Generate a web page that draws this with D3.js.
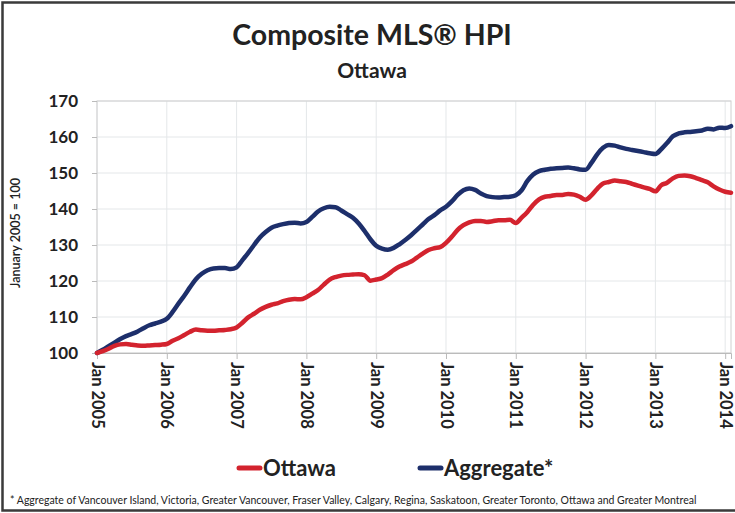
<!DOCTYPE html>
<html>
<head>
<meta charset="utf-8">
<script src="https://cdn.jsdelivr.net/npm/d3@7"></script>
<style>
  body { margin: 0; background: #fff; }
  text { font-family: Lato, "Open Sans", sans-serif; fill: #222; }
</style>
</head>
<body>
<div id="chart"></div>
<script>
'use strict'

// monthly index, Jan 2005 .. Feb 2014
const yearLabels = ["Jan 2005", "Jan 2006", "Jan 2007", "Jan 2008", "Jan 2009",
    "Jan 2010", "Jan 2011", "Jan 2012", "Jan 2013", "Jan 2014"];
const yTicks = [100, 110, 120, 130, 140, 150, 160, 170];

const ottawa = [
    100.0, 100.5, 101.2, 102.0, 102.4, 102.5, 102.3, 102.1, 102.0, 102.1, 102.2, 102.3,
    102.5, 103.4, 104.1, 105.0, 105.9, 106.5, 106.3, 106.2, 106.2, 106.3, 106.4, 106.6,
    107.1, 108.4, 109.9, 110.9, 112.0, 112.8, 113.4, 113.8, 114.4, 114.8, 115.0, 114.9,
    115.5, 116.5, 117.5, 119.0, 120.4, 121.1, 121.5, 121.7, 121.8, 121.9, 121.6, 120.1,
    120.4, 120.8, 121.8, 123.0, 124.0, 124.7, 125.4, 126.5, 127.6, 128.6, 129.1, 129.4,
    130.6, 132.3, 134.2, 135.5, 136.3, 136.7, 136.7, 136.4, 136.6, 136.9, 136.9, 137.0,
    136.1, 137.6, 139.2, 141.2, 142.7, 143.4, 143.6, 143.9, 143.9, 144.2, 144.0, 143.4,
    142.6, 143.8, 145.6, 147.1, 147.5, 147.9, 147.7, 147.5, 147.0, 146.5, 146.0, 145.6,
    144.9, 146.6, 147.3, 148.5, 149.2, 149.3, 149.1, 148.6, 148.0, 147.4, 146.3, 145.4,
    144.8, 144.5
];

const aggregate = [
    100.0, 100.9, 101.9, 102.9, 103.9, 104.7, 105.3, 106.0, 106.9, 107.7, 108.2, 108.7,
    109.5, 111.4, 113.7, 115.9, 118.3, 120.5, 122.0, 123.0, 123.5, 123.6, 123.6, 123.3,
    123.8, 125.8, 127.8, 130.0, 132.1, 133.6, 134.8, 135.4, 135.8, 136.1, 136.2, 136.0,
    136.4, 137.8, 139.3, 140.2, 140.6, 140.5, 139.6, 138.6, 137.6, 136.0, 133.9, 131.6,
    129.8, 129.0, 128.7, 129.2, 130.2, 131.4, 132.7, 134.2, 135.7, 137.2, 138.3, 139.6,
    140.6, 142.1, 143.9, 145.2, 145.7, 145.3, 144.3, 143.6, 143.3, 143.2, 143.3, 143.4,
    143.8, 145.2, 147.8, 149.6, 150.5, 150.9, 151.2, 151.3, 151.4, 151.5, 151.3, 151.0,
    150.9, 152.8, 155.2, 157.0, 157.8, 157.6, 157.1, 156.7, 156.4, 156.1, 155.8, 155.5,
    155.3, 156.6, 158.3, 160.2, 161.0, 161.3, 161.4, 161.6, 161.8, 162.3, 162.1, 162.6,
    162.5, 163.0
];

const seriesNames = ["Ottawa", "Aggregate*"];
const seriesColors = ["#d3232e", "#1d2f6b"];

const W = 735, H = 513;
const plot = { left: 97, right: 731, top: 101, bottom: 353 };

const svg = d3.select("#chart").append("svg")
    .attr("width", W)
    .attr("height", H);

// outer frame
svg.append("rect")
    .attr("x", 2.5).attr("y", 2.5)
    .attr("width", W + 20).attr("height", H - 5)
    .attr("fill", "none")
    .attr("stroke", "#3a3a3a")
    .attr("stroke-width", 2.5);

svg.append("text")
    .attr("x", 372).attr("y", 45)
    .attr("text-anchor", "middle")
    .style("font-size", "28.5px")
    .style("font-weight", "bold")
    .text("Composite MLS® HPI");

svg.append("text")
    .attr("x", 372).attr("y", 78)
    .attr("text-anchor", "middle")
    .style("font-size", "21px")
    .style("font-weight", "bold")
    .text("Ottawa");

const x = d3.scaleLinear()
    .domain([0, ottawa.length - 1])
    .range([plot.left, plot.right]);

const y = d3.scaleLinear()
    .domain([100, 170])
    .range([plot.bottom, plot.top]);

const xTickIdx = yearLabels.map((d, i) => i * 12);

// grid
const grid = svg.append("g");
grid.selectAll(".hg")
    .data(yTicks)
    .enter().append("line")
    .attr("x1", plot.left).attr("x2", plot.right)
    .attr("y1", d => y(d)).attr("y2", d => y(d))
    .attr("stroke", "#e4e7e9");
grid.selectAll(".vg")
    .data(xTickIdx)
    .enter().append("line")
    .attr("x1", d => x(d)).attr("x2", d => x(d))
    .attr("y1", plot.top).attr("y2", plot.bottom)
    .attr("stroke", "#e4e7e9");

svg.append("rect")
    .attr("x", plot.left).attr("y", plot.top)
    .attr("width", plot.right - plot.left)
    .attr("height", plot.bottom - plot.top)
    .attr("fill", "none")
    .attr("stroke", "#d0d0d0");

// axes
const yAxis = svg.append("g")
    .attr("transform", `translate(${plot.left - 4}, 0)`)
    .call(d3.axisLeft(y).tickValues(yTicks).tickSize(5).tickPadding(10))
yAxis.select(".domain").remove();
yAxis.selectAll("line").attr("stroke", "#bbb").attr("transform", "translate(4,0)");
yAxis.selectAll("text")
    .style("font-size", "17px")
    .style("font-weight", "bold")
    .attr("fill", "#222");

const xAxis = svg.append("g")
    .attr("transform", `translate(0, ${plot.bottom})`)
    .call(d3.axisBottom(x).tickValues(xTickIdx).tickSize(6)
        .tickFormat((d, i) => yearLabels[i]));
xAxis.select(".domain").attr("stroke", "#bbb");
xAxis.selectAll("line").attr("stroke", "#bbb");
xAxis.selectAll("text")
    .attr("transform", "rotate(90)")
    .attr("x", 9).attr("y", 0)
    .attr("dy", "0.36em")
    .style("text-anchor", "start")
    .style("font-size", "16.5px")
    .style("font-weight", "bold")
    .attr("fill", "#222");

svg.append("text")
    .attr("transform", "translate(20, 233) rotate(-90)")
    .attr("text-anchor", "middle")
    .style("font-size", "12.5px")
    .style("font-weight", "600")
    .text("January 2005 = 100");

// lines
const line = d3.line()
    .x((d, i) => x(i))
    .y(d => y(d))
    .curve(d3.curveMonotoneX);

[aggregate, ottawa].forEach((s, k) => {
    svg.append("path")
        .datum(s)
        .attr("fill", "none")
        .attr("stroke", seriesColors[1 - k])
        .attr("stroke-width", 4.5)
        .attr("stroke-linejoin", "round")
        .attr("stroke-linecap", "round")
        .attr("d", line);
});

// legend
const legendX = [239, 420];
const legend = svg.selectAll(".legend")
    .data(seriesNames)
    .enter().append("g")
    .attr("transform", (d, i) => `translate(${legendX[i]}, 468)`);
legend.append("line")
    .attr("x1", 0).attr("x2", 21)
    .attr("stroke", (d, i) => seriesColors[i])
    .attr("stroke-width", 5)
    .attr("stroke-linecap", "round");
legend.append("text")
    .attr("x", 24).attr("dy", "0.36em")
    .style("font-size", "22px")
    .style("font-weight", "bold")
    .text(d => d);

// footnote, squeezed to the reference width
const note = svg.append("text")
    .attr("x", 10).attr("y", 504)
    .style("font-size", "10.5px")
    .text("* Aggregate of Vancouver Island, Victoria, Greater Vancouver, Fraser Valley, Calgary, Regina, Saskatoon, Greater Toronto, Ottawa and Greater Montreal");
const noteLen = note.node().getComputedTextLength();
if (noteLen > 694) note.style("font-size", (10.5 * 694 / noteLen) + "px");
</script>
</body>
</html>
